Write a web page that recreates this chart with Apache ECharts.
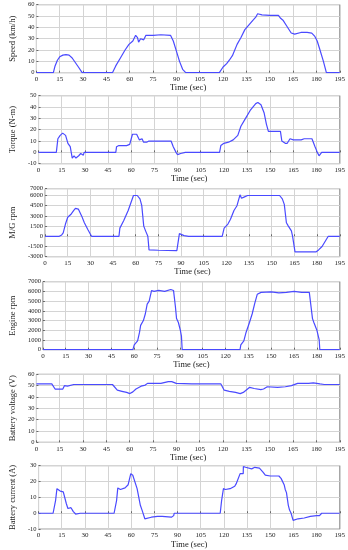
<!DOCTYPE html>
<html><head><meta charset="utf-8">
<script src="https://cdn.jsdelivr.net/npm/echarts@6/dist/echarts.min.js"></script>
<style>html,body{margin:0;padding:0;background:#fff}#c{width:348px;height:550px}</style>
</head><body><div id="c"></div>
<script>
const xTicks = [0,15,30,45,60,75,90,105,120,135,150,165,180,195];
const mgTicks = [-3000,-1500,0,1500,3000,4500,6000];
const mgTopTick = [7000];

const speedT = [0,10.9,12,13.5,15,17,19,21,23,25,27,29.4,48.9,51,54,57,59.5,62,63.8,65,65.7,67,69,70.4,75,80,86.2,88,90,92,94,96,117.6,120,122.3,124,126,129,131.5,134,136.5,139,141,142.2,145,150,155.6,157,158.7,161,163.8,166,170,174,177,179,180.5,182.3,184.5,186.4,195];
const speedV = [0,0,6,11,14,15.5,16,15.5,13,9,5,0,0,6,13,20,25,28,33,31,27,30,29,33,33,33.5,33,28,19,10,3,0,0,5,8,11,15,25,31,38,42,46,49,52,51,50.5,50.5,48,46,41,35,34,35.5,35.5,35,32,28,20,10,0,0];

const torqueT = [0,11.5,12.5,14,15.6,17.5,19,20.5,21.8,23,24.2,26,27.3,29,29.3,29.5,50,50.5,52,57,59,60.8,62,63.5,65.3,66,67,68,70,71.4,85.8,87.2,89,90,92,95,117.2,118,120,123,126,129,131,134,137,140.6,142,144,146,147.5,148.8,156.6,157.5,159.7,161,162,162.8,165,170,172,177,179,180.5,181.6,182.5,183.3,195];
const torqueV = [0,0,12,15,17,15,8,5,-5,-3,-5,-3,-1,-2.5,-3,0,0,5,6,6,7,16,17,16,11,10,12,9,9,10,10,5,0,-2,-1,0,0,6,8,9,11,15,23,30,37,43,44,42,35,25,18.5,18.5,10,8,8,9,12,11,11,12,12,5,0,-3,-2,0,0];

const mgT = [0,9.4,11,12,13.5,15,17,19,20.1,22,24.2,26,28.3,30,30.8,48.9,49.5,52,55,58.5,59.5,61,62.8,64,65.3,66.5,68,68.8,75,87.2,88.9,90,92,95,117.2,118.5,121,122.7,125,127,129,130,132,133,134,140,150,155.2,157,158.3,159.7,161,163,163.8,165.4,172,179.2,181,183.3,186,187.4,195];
const mgV = [0,0,200,500,1800,2800,3200,3800,4100,4000,3000,2000,1000,300,0,0,1200,2300,3800,6000,6100,6000,5500,4500,1500,800,0,-2000,-2050,-2100,400,300,100,0,0,1200,1800,2500,3800,4500,6100,5600,5800,5600,6000,6000,6000,6000,5500,4700,2000,1500,800,0,-2300,-2300,-2300,-2000,-1500,-500,0,0];

const engT = [0,59.1,60,62.2,63.5,64.2,66,67.3,68.5,69.8,71.4,73,76,80,84,85.8,87,87.8,89,90.3,91,91.5,129.5,130,132,133.5,135.7,137.5,139.2,140.8,142,143.3,150,155,160,165,170,175,177.1,178,180,181.5,181.9,195];
const engV = [0,0,500,900,1800,2500,3000,3700,4700,5000,6100,6000,6100,6000,6200,6100,4500,3200,2800,2000,1400,0,0,500,900,1800,2800,3700,4800,5700,5700,5900,5950,5850,5900,6000,5900,5900,3200,2800,2000,1000,0,0];

const voltT = [0,9.9,12,17,18,20,24,48.9,50,52,55,58,60.1,62,64,67.3,70,71.4,80,84.8,87,89.9,100,118.6,120.7,124,128,131,133,137.1,140,144.3,146,148.4,155,160,164,167.9,175,178,182.3,185,195];
const voltV = [51.5,51.5,47,47,50,49.5,51,51,50,46,45,44,43,44.5,47,49.5,50.5,52,52,53.5,53.5,52,51.5,51.5,46,45,44,43,44,48.5,47.5,46.5,47,49,48.5,49,50,52,52,52.5,51.5,51,51];

const currT = [0,9.4,10,11,11.9,14,16,17,18,19,21,22.5,23.2,24,27,48.9,49.5,50.5,51.3,53,54,56,58,58.5,59.7,61,62,63.8,64.5,65.9,67,67.5,68.8,70,73,77,80,81,86,87.5,87.8,117.6,118.5,119.7,121,124,127,127.9,129,130.5,131.5,132.5,132.6,134,135,138,140,143,144,145.3,146.8,150,155.6,157,159,159.7,160.5,161.7,162.5,163.5,164.8,166,168,172,176,180,181.9,183.3,195];
const currV = [0,0,1,8,15.5,14,13.5,12.5,6,3,3.5,1,0,-0.5,0,0,1,8,16,15,14.5,16,18,19,25,24,24,15.5,14.5,5,2,1,-3.5,-3,-2.5,-2,-2,-2.5,-2.5,-1.5,0,0,8,15.5,15,15.5,17,18.5,19,25,24.5,25,29.5,29,28,28,29,28.5,28,26,24,23.5,23.5,22,18,15,13,5,2,0,-4.5,-4,-3.5,-3,-2,-1.5,-1.5,0,0];

const panels = [
  {name:'Speed (km/h)', t:speedT, v:speedV, min:0, max:60, interval:10},
  {name:'Torque (N-m)', t:torqueT, v:torqueV, min:-10, max:50, interval:10},
  {name:'M/G rpm', t:mgT, v:mgV, min:-3000, max:7000, interval:1500, labels:mgTicks, extra:mgTopTick},
  {name:'Engine rpm', t:engT, v:engV, min:0, max:7000, interval:1000},
  {name:'Battery voltage (V)', t:voltT, v:voltV, min:0, max:60, interval:10},
  {name:'Battery current (A)', t:currT, v:currV, min:-10, max:30, interval:10}
];
const tops = [4.7, 95.7, 188.7, 281.7, 374.3, 465.7];
const font = 'Liberation Serif';

const chart = echarts.init(document.getElementById('c'), null, {renderer:'canvas'});
const grid=[], xAxis=[], yAxis=[], series=[];
panels.forEach((p,i)=>{
  grid.push({left:24, width:317, top:tops[i], height:68, show:true, borderColor:'#888', borderWidth:1, backgroundColor:'#fff'});
  xAxis.push({type:'value', gridIndex:i, min:0, max:195, interval:15,
    name:'Time (sec)', nameLocation:'middle', nameGap:9.5,
    nameTextStyle:{fontFamily:font, fontSize:8.5, color:'#222'},
    axisLine:{show:false}, axisTick:{show:true, inside:true, length:2, lineStyle:{color:'#666'}},
    axisLabel:{fontFamily:font, fontSize:7, color:'#222', margin:3, hideOverlap:false,
      formatter:v=>xTicks.includes(v)?String(v):''},
    splitLine:{show:true, lineStyle:{color:'#d4d4d4', width:1}}});
  const yLab = {fontFamily:font, fontSize:6.5, color:'#222', margin:2, showMaxLabel:true, showMinLabel:true, hideOverlap:false,
      formatter:v=>String(v)};
  if (p.labels) yLab.customValues = p.labels;
  const yIdx = yAxis.length;
  yAxis.push({type:'value', gridIndex:i, min:p.min, max:p.max, interval:p.interval,
    name:p.name, nameLocation:'middle', nameGap:17,
    nameTextStyle:{fontFamily:font, fontSize:8.5, color:'#222'},
    axisLine:{show:false}, axisTick:{show:true, inside:true, length:2, lineStyle:{color:'#666'}},
    axisLabel:yLab,
    splitLine:{show:true, lineStyle:{color:'#d4d4d4', width:1}}});
  if (p.extra) {
    yAxis.push({type:'value', gridIndex:i, min:p.min, max:p.max, position:'left',
      axisLine:{show:false}, axisTick:{show:false}, splitLine:{show:false},
      axisLabel:{fontFamily:font, fontSize:6.5, color:'#222', margin:2, hideOverlap:false,
        customValues:p.extra, formatter:v=>String(v)}});
  }
  series.push({type:'line', xAxisIndex:i, yAxisIndex:yIdx, data:p.t.map((t,k)=>[t,p.v[k]]),
    showSymbol:false, symbol:'none', lineStyle:{color:'#4a4aff', width:1.2}, animation:false});
});
chart.setOption({animation:false, backgroundColor:'#fff', grid, xAxis, yAxis, series});
</script></body></html>
